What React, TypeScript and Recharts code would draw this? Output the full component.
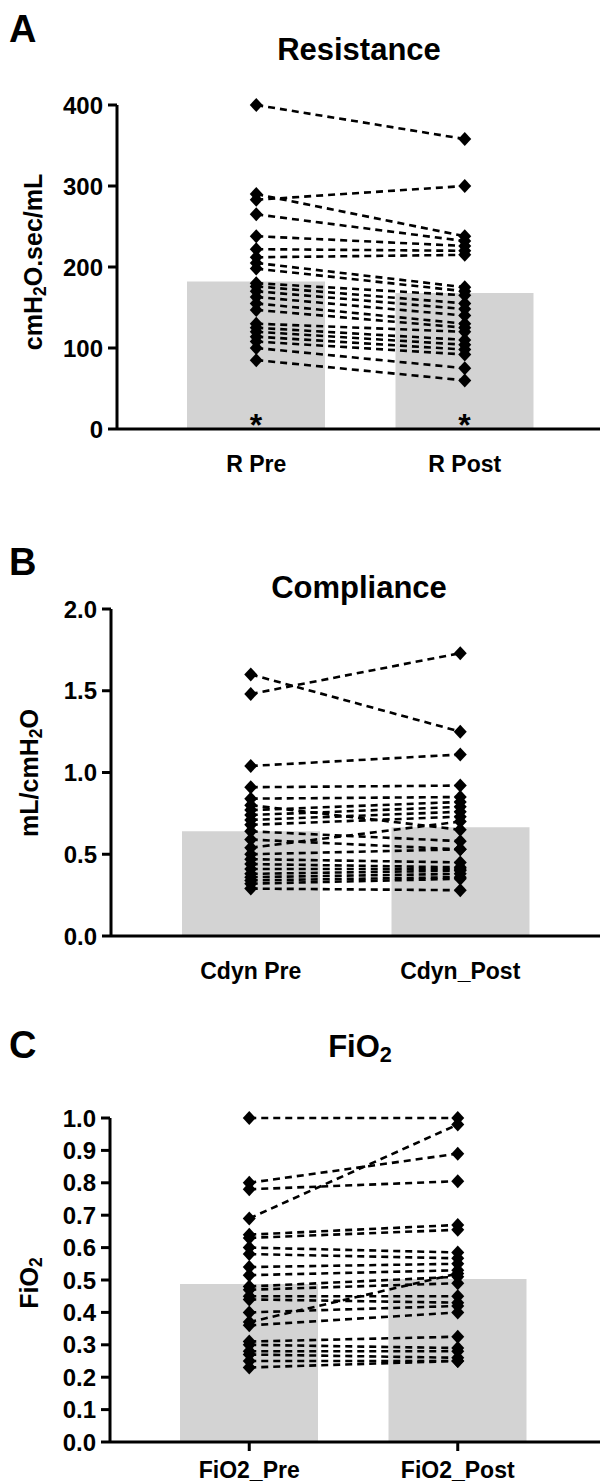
import React from 'react';
import { ComposedChart, Bar, Line, XAxis, YAxis, LabelList } from 'recharts';

const FONT = '"Liberation Sans", Arial, Helvetica, sans-serif';

// Panel A – Resistance
const resCategories = ['R Pre', 'R Post'];
const resMeans = [182, 168];
const resPre = [400, 283, 290, 265, 238, 222, 212, 205, 198, 180, 176, 170, 163, 155, 147, 130, 125, 120, 114, 108, 100, 85];
const resPost = [358, 300, 238, 232, 226, 220, 215, 175, 170, 165, 155, 148, 140, 130, 125, 120, 110, 104, 98, 92, 75, 60];
const resTicks = [0, 100, 200, 300, 400];

// Panel B – Compliance
const compCategories = ['Cdyn Pre', 'Cdyn_Post'];
const compMeans = [0.64, 0.665];
const compPre = [1.6, 1.48, 1.04, 0.91, 0.84, 0.8, 0.77, 0.74, 0.71, 0.68, 0.64, 0.59, 0.54, 0.5, 0.47, 0.44, 0.41, 0.38, 0.36, 0.34, 0.32, 0.29];
const compPost = [1.25, 1.73, 1.11, 0.92, 0.85, 0.65, 0.82, 0.79, 0.76, 0.73, 0.58, 0.53, 0.7, 0.53, 0.45, 0.42, 0.41, 0.4, 0.38, 0.36, 0.35, 0.28];
const compTicks = [0, 0.5, 1.0, 1.5, 2.0];

// Panel C – FiO2
const fioCategories = ['FiO2_Pre', 'FiO2_Post'];
const fioMeans = [0.488, 0.503];
const fioPre = [1.0, 0.8, 0.78, 0.69, 0.64, 0.63, 0.6, 0.58, 0.54, 0.515, 0.48, 0.47, 0.45, 0.44, 0.4, 0.37, 0.36, 0.31, 0.3, 0.28, 0.27, 0.25, 0.23];
const fioPost = [1.0, 0.89, 0.805, 0.98, 0.67, 0.655, 0.585, 0.567, 0.55, 0.53, 0.51, 0.49, 0.45, 0.43, 0.42, 0.52, 0.4, 0.325, 0.29, 0.28, 0.26, 0.25, 0.25];
const fioTicks = [0, 0.1, 0.2, 0.3, 0.4, 0.5, 0.6, 0.7, 0.8, 0.9, 1.0];

function buildData(cats: string[], means: number[], pre: number[], post: number[]) {
  const rows: any[] = cats.map((c, i) => ({ name: c, mean: means[i] }));
  pre.forEach((v, i) => {
    rows[0]['s' + i] = v;
    rows[1]['s' + i] = post[i];
  });
  return rows;
}

const Diamond = (props: any) => {
  const { cx, cy, index, dataKey } = props;
  if (cx == null || cy == null) return <g key={`${dataKey}-${index}`} />;
  return (
    <path
      key={`${dataKey}-${index}`}
      d={`M${cx},${cy - 7}L${cx + 6.5},${cy}L${cx},${cy + 7}L${cx - 6.5},${cy}Z`}
      fill="#000"
    />
  );
};

const Asterisk = (props: any) => {
  const { x, y, width, height } = props;
  return (
    <text
      x={x + width / 2}
      y={y + height + 7}
      textAnchor="middle"
      fontSize={32}
      fontWeight={700}
      fontFamily={FONT}
      fill="#000"
    >
      *
    </text>
  );
};

type PanelProps = {
  top: number;
  height: number;
  mTop: number;
  mBottom: number;
  xHeight: number;
  tickMargin: number;
  yWidth: number;
  pl: number;
  pr: number;
  data: any[];
  n: number;
  ticks: number[];
  digits: number;
  xTickLine: boolean;
  asterisk?: boolean;
};

function Panel(p: PanelProps) {
  const axisStyle = { stroke: '#000', strokeWidth: 3 };
  const tickStyle = { fill: '#000', fontSize: 23, fontWeight: 700, fontFamily: FONT };
  return (
    <div style={{ position: 'absolute', left: 0, top: p.top }}>
      <ComposedChart
        width={603}
        height={p.height}
        data={p.data}
        margin={{ top: p.mTop, right: 3, bottom: p.mBottom, left: 0 }}
      >
        <XAxis
          dataKey="name"
          axisLine={axisStyle}
          tickLine={p.xTickLine ? axisStyle : false}
          tickSize={9}
          tickMargin={p.tickMargin}
          tick={tickStyle}
          interval={0}
          padding={{ left: p.pl, right: p.pr }}
          height={p.xHeight}
        />
        <YAxis
          type="number"
          domain={[p.ticks[0], p.ticks[p.ticks.length - 1]]}
          ticks={p.ticks}
          interval={0}
          width={p.yWidth}
          axisLine={axisStyle}
          tickLine={axisStyle}
          tickSize={9}
          tickMargin={5}
          tick={{ ...tickStyle, fontSize: 24 }}
          tickFormatter={(v: number) => v.toFixed(p.digits)}
        />
        <Bar dataKey="mean" fill="#d3d3d3" barSize={138} isAnimationActive={false}>
          {p.asterisk ? <LabelList dataKey="mean" content={Asterisk} /> : null}
        </Bar>
        {Array.from({ length: p.n }).map((_, i) => (
          <Line
            key={'s' + i}
            dataKey={'s' + i}
            stroke="#000"
            strokeWidth={2.6}
            strokeDasharray="7 5"
            dot={Diamond}
            activeDot={false}
            isAnimationActive={false}
          />
        ))}
      </ComposedChart>
    </div>
  );
}

const abs = (style: React.CSSProperties): React.CSSProperties => ({
  position: 'absolute',
  fontFamily: FONT,
  fontWeight: 700,
  color: '#000',
  whiteSpace: 'nowrap',
  lineHeight: 1,
  ...style,
});

function RotLabel({ cx, cy, children }: { cx: number; cy: number; children: React.ReactNode }) {
  return (
    <div
      style={abs({
        left: cx,
        top: cy,
        fontSize: 25,
        transform: 'translate(-50%, -50%) rotate(-90deg)',
      })}
    >
      {children}
    </div>
  );
}

const sub: React.CSSProperties = { fontSize: '0.7em', verticalAlign: '-0.25em' };

export default function App() {
  const resData = buildData(resCategories, resMeans, resPre, resPost);
  const compData = buildData(compCategories, compMeans, compPre, compPost);
  const fioData = buildData(fioCategories, fioMeans, fioPre, fioPost);
  return (
    <div style={{ position: 'absolute', left: 0, top: 0, width: 603, height: 1482, background: '#fff', overflow: 'hidden' }}>
      <Panel top={0} height={490} mTop={105} mBottom={11} xHeight={50} tickMargin={18} yWidth={117} pl={35} pr={31}
        data={resData} n={resPre.length} ticks={resTicks} digits={0} xTickLine={false} asterisk />
      <Panel top={500} height={490} mTop={109} mBottom={4} xHeight={50} tickMargin={18} yWidth={111} pl={35} pr={35}
        data={compData} n={compPre.length} ticks={compTicks} digits={1} xTickLine={false} />
      <Panel top={1000} height={482} mTop={118} mBottom={0} xHeight={40} tickMargin={11} yWidth={110} pl={35} pr={38}
        data={fioData} n={fioPre.length} ticks={fioTicks} digits={1} xTickLine={true} />

      <div style={abs({ left: 9, top: 10, fontSize: 38 })}>A</div>
      <div style={abs({ left: 9, top: 543, fontSize: 38 })}>B</div>
      <div style={abs({ left: 9, top: 1026, fontSize: 38 })}>C</div>

      <div style={abs({ left: 359, top: 34, fontSize: 31, transform: 'translateX(-50%)' })}>Resistance</div>
      <div style={abs({ left: 359, top: 572, fontSize: 31, transform: 'translateX(-50%)' })}>Compliance</div>
      <div style={abs({ left: 360, top: 1031, fontSize: 31, transform: 'translateX(-50%)' })}>
        FiO<span style={sub}>2</span>
      </div>

      <RotLabel cx={35} cy={262}>
        cmH<span style={sub}>2</span>O.sec/mL
      </RotLabel>
      <RotLabel cx={31} cy={773}>
        mL/cmH<span style={sub}>2</span>O
      </RotLabel>
      <RotLabel cx={31} cy={1283}>
        FiO<span style={sub}>2</span>
      </RotLabel>
    </div>
  );
}
